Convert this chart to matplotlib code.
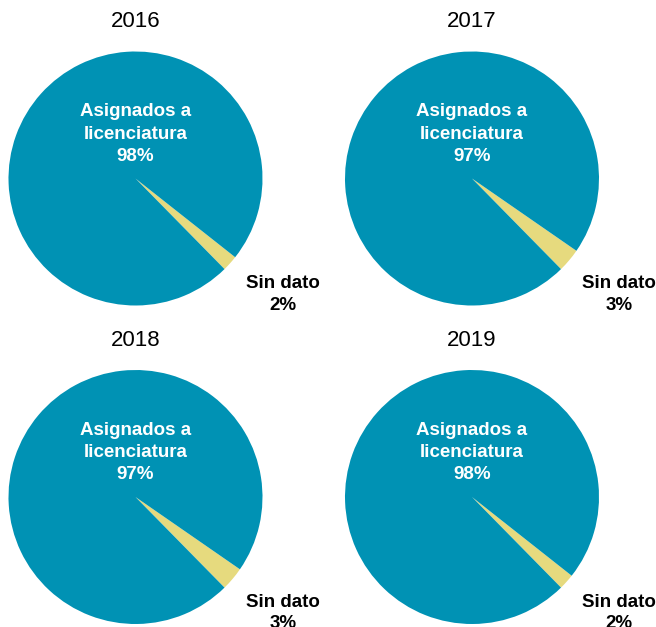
import matplotlib
matplotlib.use('Agg')
import matplotlib.pyplot as plt

plt.rcParams['font.family'] = ['Liberation Sans', 'DejaVu Sans']

years = ['2016', '2017', '2018', '2019']
asignados = [98, 97, 97, 98]
sin_dato = [2, 3, 3, 2]

blue = '#0092b4'
yellow = '#e6da7e'

W, H = 656, 627
R = 127
centers = [(135.5, 178.5), (472, 178.5), (135.5, 497), (472, 497)]

fig = plt.figure(figsize=(W / 100, H / 100), dpi=100)

for i, year in enumerate(years):
    cx, cy = centers[i]
    ax = fig.add_axes([(cx - R) / W, (H - cy - R) / H, 2 * R / W, 2 * R / H])
    ax.pie([sin_dato[i], asignados[i]], colors=[yellow, blue],
           startangle=-45.5, counterclock=True, radius=1,
           wedgeprops={'linewidth': 0})
    ax.set_xlim(-1, 1)
    ax.set_ylim(-1, 1)
    ax.set_aspect('equal')
    ax.axis('off')

    # year title above each pie
    ax.text(0, 1.235, year, ha='center', va='center', fontsize=16)
    ax.text(0, 0.35, 'Asignados a\nlicenciatura\n%d%%' % asignados[i],
            ha='center', va='center', fontsize=13.5, fontweight='bold',
            color='white', linespacing=1.4)
    ax.text(1.16, -0.915, 'Sin dato\n%d%%' % sin_dato[i],
            ha='center', va='center', fontsize=13.5, fontweight='bold',
            color='black', linespacing=1.35, clip_on=False)

fig.savefig('out.png', dpi=100)
